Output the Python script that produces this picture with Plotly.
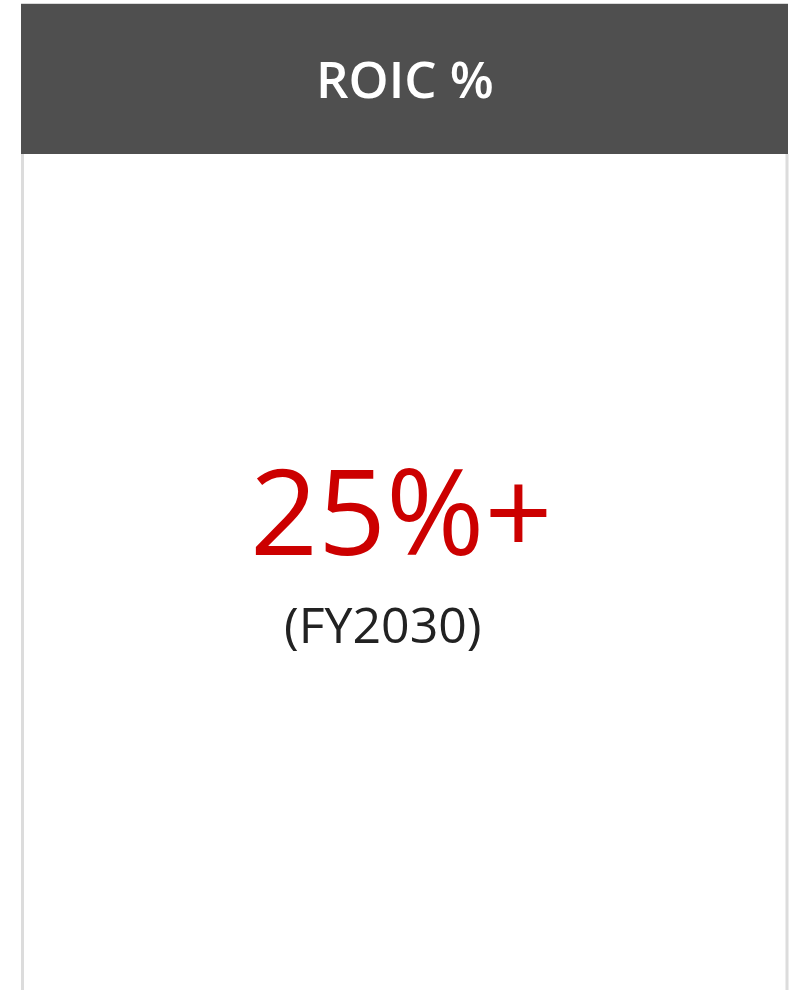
import plotly.graph_objects as go

# Data
card_title = "ROIC %"
kpi_value = "25%+"
kpi_period = "(FY2030)"

W, H = 800, 990
fig = go.Figure()

# Card header and borders
fig.add_shape(type="rect", x0=21, x1=788, y0=3, y1=154, fillcolor="#4f4f4f",
              line=dict(width=0), layer="below")
fig.add_shape(type="line", x0=21, x1=788, y0=3.5, y1=3.5, line=dict(color="#d9d9d9", width=1))
fig.add_shape(type="line", x0=22.5, x1=22.5, y0=154, y1=990, line=dict(color="#dcdcdc", width=3))
fig.add_shape(type="line", x0=787, x1=787, y0=154, y1=990, line=dict(color="#dcdcdc", width=3))

fig.add_annotation(x=405, y=78, text=card_title, showarrow=False,
                   font=dict(family="Open Sans", size=51, color="#ffffff", weight=600),
                   xanchor="center", yanchor="middle")
fig.add_annotation(x=401, y=509, text=kpi_value, showarrow=False,
                   font=dict(family="Open Sans", size=119, color="#cc0000"),
                   xanchor="center", yanchor="middle")
fig.add_annotation(x=383, y=624, text=kpi_period, showarrow=False,
                   font=dict(family="Open Sans", size=50, color="#222222"),
                   xanchor="center", yanchor="middle")

fig.update_xaxes(range=[0, W], visible=False, fixedrange=True)
fig.update_yaxes(range=[H, 0], visible=False, fixedrange=True)
fig.update_layout(width=W, height=H, margin=dict(l=0, r=0, t=0, b=0),
                  paper_bgcolor="#ffffff", plot_bgcolor="#ffffff", showlegend=False)

fig.write_html("out.html", config={"displayModeBar": False},
               post_script="document.body.style.margin='0';document.body.style.overflow='hidden';")
